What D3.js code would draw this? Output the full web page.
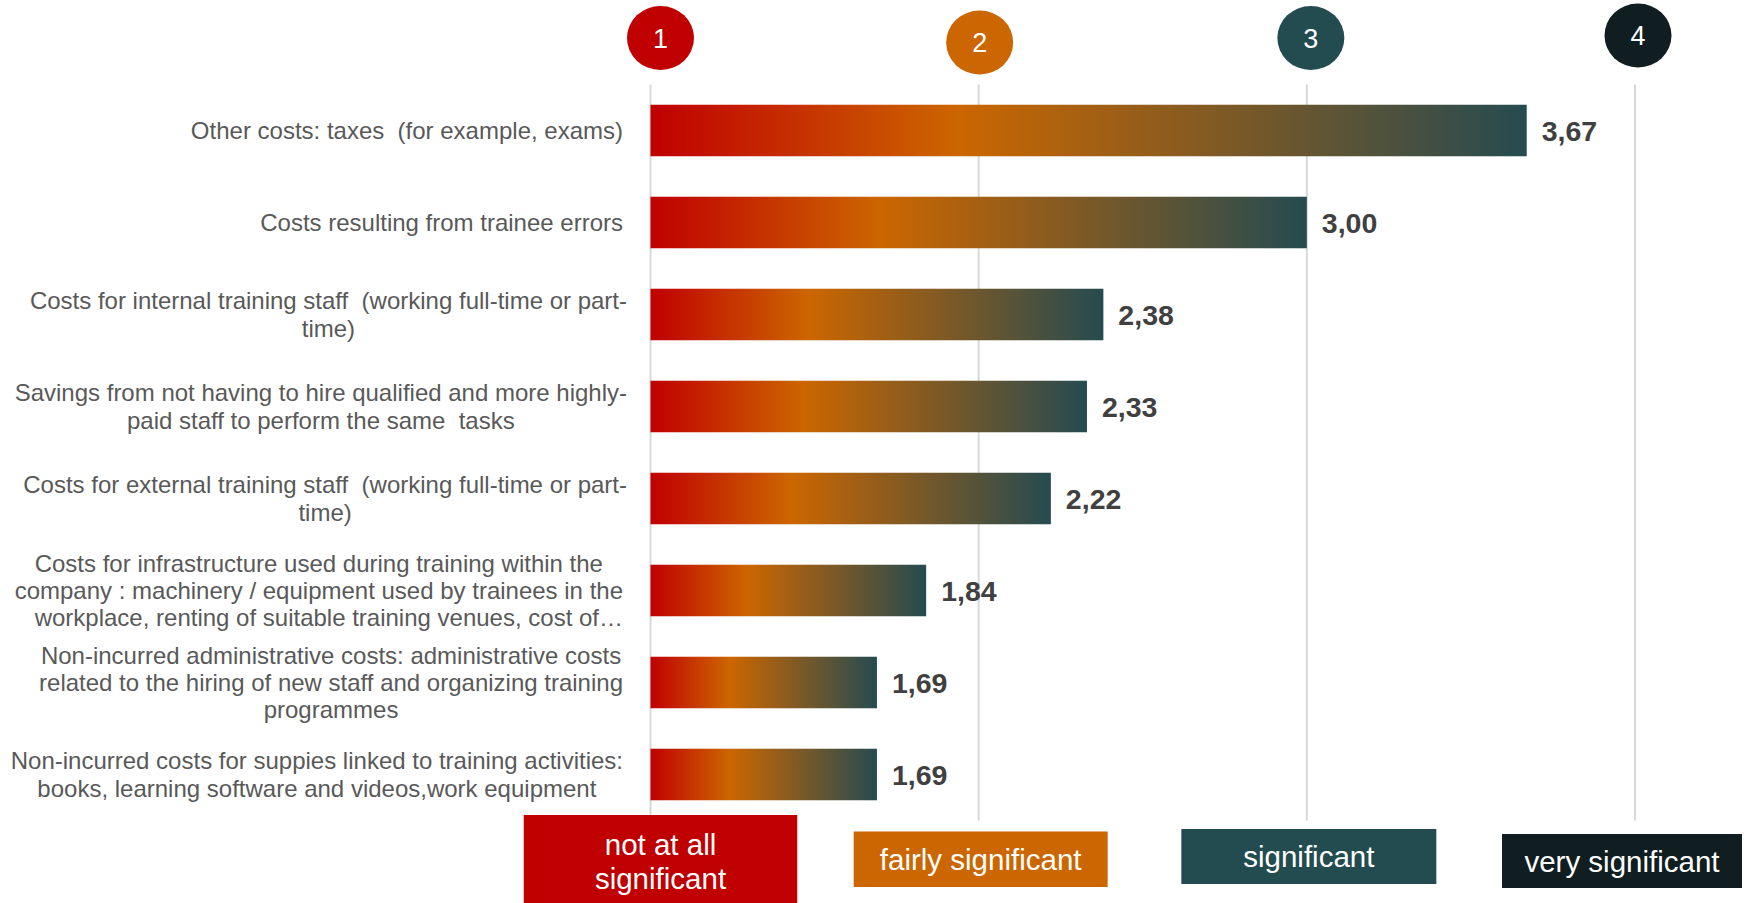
<!DOCTYPE html>
<html>
<head>
<meta charset="utf-8">
<script src="https://cdn.jsdelivr.net/npm/d3@7"></script>
<style>
  body { margin: 0; background: #fff; }
  svg { display: block; font-family: "Liberation Sans", Arial, sans-serif; }
  text { white-space: pre; }
</style>
</head>
<body>
<svg width="1750" height="903"></svg>
<script>
// Category labels, already split the way the original wraps them
var labelLines = [
    ["Other costs: taxes  (for example, exams)"],
    ["Costs resulting from trainee errors"],
    ["Costs for internal training staff  (working full-time or part-", "time)"],
    ["Savings from not having to hire qualified and more highly-", "paid staff to perform the same  tasks"],
    ["Costs for external training staff  (working full-time or part-", "time)"],
    ["Costs for infrastructure used during training within the", "company : machinery / equipment used by trainees in the", "workplace, renting of suitable training venues, cost of\u2026"],
    ["Non-incurred administrative costs: administrative costs", "related to the hiring of new staff and organizing training", "programmes"],
    ["Non-incurred costs for suppies linked to training activities:", "books, learning software and videos,work equipment"]
];
var categories = labelLines.map(function (l) { return l.join(" "); });

// Mean scores
var values = [3.67, 3.00, 2.38, 2.33, 2.22, 1.84, 1.69, 1.69];

// Scale levels (top badges and bottom legend)
var levels = [1, 2, 3, 4];
var levelNames = [["not at all", "significant"], ["fairly significant"], ["significant"], ["very significant"]];
var levelColors = ["#C00000", "#CC6600", "#234C51", "#101E21"];

// Layout
var w = 1750, h = 903;
var plotTop = 84.5, plotBottom = 820.5;
var labelRight = 623;

var svg = d3.select("svg");

var xScale = d3.scaleLinear()
    .domain([1, 4])
    .range([650.5, 1635]);

var yScale = d3.scaleBand()
    .domain(categories)
    .range([plotTop, plotBottom])
    .paddingInner(0.44)
    .paddingOuter(0.22);

// gradient used by every bar (scaled to each bar's own box)
var defs = svg.append("defs");
var grad = defs.append("linearGradient")
    .attr("id", "barGrad")
    .attr("x1", "0").attr("x2", "1").attr("y1", "0").attr("y2", "0");
grad.append("stop").attr("offset", "0%").attr("stop-color", "#C00000");
grad.append("stop").attr("offset", "35%").attr("stop-color", "#CC6600");
grad.append("stop").attr("offset", "100%").attr("stop-color", "#254B50");

// vertical gridlines at each level
svg.append("g")
    .selectAll("line")
    .data(levels)
    .enter()
    .append("line")
    .attr("x1", function (d) { return xScale(d); })
    .attr("x2", function (d) { return xScale(d); })
    .attr("y1", plotTop)
    .attr("y2", plotBottom)
    .attr("stroke", "#D9D9D9")
    .attr("stroke-width", 2);

// bars
svg.append("g")
    .selectAll("rect")
    .data(values)
    .enter()
    .append("rect")
    .attr("x", xScale(1))
    .attr("y", function (d, i) { return yScale(categories[i]); })
    .attr("width", function (d) { return xScale(d) - xScale(1); })
    .attr("height", yScale.bandwidth())
    .attr("fill", "url(#barGrad)");

// value labels
var fmt = d3.format(".2f");
svg.append("g")
    .selectAll("text")
    .data(values)
    .enter()
    .append("text")
    .attr("x", function (d) { return xScale(d) + 15; })
    .attr("y", function (d, i) { return yScale(categories[i]) + yScale.bandwidth() / 2; })
    .attr("dy", "0.36em")
    .attr("font-size", "28.5px")
    .attr("font-weight", "bold")
    .attr("fill", "#404040")
    .text(function (d) { return fmt(d).replace(".", ","); });

// category labels: lines centred within a block that is right-aligned to the axis
var lineH = 27.3;
var labelG = svg.append("g")
    .selectAll("g")
    .data(labelLines)
    .enter()
    .append("g");

labelG.each(function (lines, i) {
    var g = d3.select(this);
    var cy = yScale(categories[i]) + yScale.bandwidth() / 2;
    var t = g.append("text")
        .attr("font-size", "24px")
        .attr("fill", "#595959")
        .attr("text-anchor", "middle");
    lines.forEach(function (s, k) {
        t.append("tspan")
            .attr("x", 0)
            .attr("y", cy + (k - (lines.length - 1) / 2) * lineH)
            .attr("dy", "0.35em")
            .text(s);
    });
    // a trailing hyphen hangs past the block edge, like the original
    var maxW = 0;
    t.selectAll("tspan").each(function () {
        var s = this.textContent, wd = this.getComputedTextLength();
        if (s.slice(-1) === "-") wd -= this.getSubStringLength(s.length - 1, 1);
        maxW = Math.max(maxW, wd);
    });
    t.selectAll("tspan").each(function () {
        var s = this.textContent;
        if (s.slice(-1) === "\u2026") {
            // truncated line sits flush with the right edge
            d3.select(this).attr("text-anchor", "end").attr("x", labelRight);
        } else {
            d3.select(this).attr("x", labelRight - maxW / 2);
        }
    });
});

// top badges
var badgeDx = [10, 1, 4, 3];
var badgeY = [38, 42.5, 38, 35.5];
var badges = svg.append("g")
    .selectAll("g")
    .data(levels)
    .enter()
    .append("g")
    .attr("transform", function (d, i) {
        return "translate(" + (xScale(d) + badgeDx[i]) + "," + badgeY[i] + ")";
    });

badges.append("ellipse")
    .attr("rx", 33.5)
    .attr("ry", 32)
    .attr("fill", function (d, i) { return levelColors[i]; });

badges.append("text")
    .attr("text-anchor", "middle")
    .attr("dy", "0.36em")
    .attr("font-size", "27px")
    .attr("fill", "#fff")
    .text(function (d) { return d; });

// bottom legend boxes
var boxLayout = [
    { dx: 10, y: 815, w: 273.5, h: 100 },
    { dx: 2, y: 831.5, w: 254, h: 55.5 },
    { dx: 2, y: 829, w: 255, h: 55 },
    { dx: -13, y: 834, w: 240, h: 54 }
];

var boxes = svg.append("g")
    .selectAll("g")
    .data(levels)
    .enter()
    .append("g");

boxes.append("rect")
    .attr("x", function (d, i) { return xScale(d) + boxLayout[i].dx - boxLayout[i].w / 2; })
    .attr("y", function (d, i) { return boxLayout[i].y; })
    .attr("width", function (d, i) { return boxLayout[i].w; })
    .attr("height", function (d, i) { return boxLayout[i].h; })
    .attr("fill", function (d, i) { return levelColors[i]; });

boxes.each(function (d, i) {
    var lines = levelNames[i];
    var cx = xScale(d) + boxLayout[i].dx;
    var cy = i === 0 ? 861 : boxLayout[i].y + boxLayout[i].h / 2;
    var t = d3.select(this).append("text")
        .attr("text-anchor", "middle")
        .attr("font-size", "29.5px")
        .attr("fill", "#fff");
    lines.forEach(function (s, k) {
        t.append("tspan")
            .attr("x", cx)
            .attr("y", cy + (k - (lines.length - 1) / 2) * 34)
            .attr("dy", "0.36em")
            .text(s);
    });
});
</script>
</body>
</html>
